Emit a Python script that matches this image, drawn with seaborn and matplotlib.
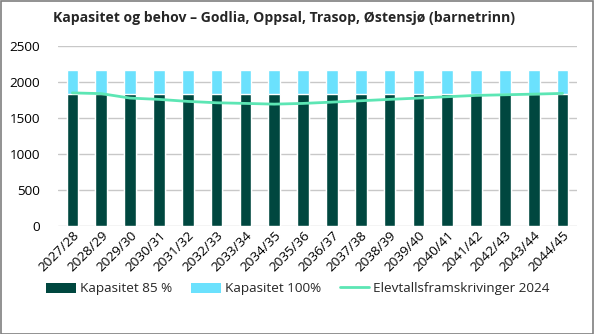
import matplotlib
matplotlib.use("Agg")
import matplotlib.pyplot as plt
import seaborn as sns
import numpy as np
import pandas as pd
from matplotlib.patches import Patch, Rectangle
from matplotlib.lines import Line2D

years = ["2027/28", "2028/29", "2029/30", "2030/31", "2031/32", "2032/33",
         "2033/34", "2034/35", "2035/36", "2036/37", "2037/38", "2038/39",
         "2039/40", "2040/41", "2041/42", "2042/43", "2043/44", "2044/45"]
kap85 = [1840] * 18
kap100 = [2165] * 18
elevtall = [1850, 1840, 1778, 1760, 1732, 1713, 1704, 1694, 1704,
            1722, 1741, 1760, 1778, 1797, 1815, 1824, 1833, 1843]

c_dark = "#00473F"
c_light = "#6BE1FD"
c_line = "#5CE6B4"

sns.set_theme(style="white")
plt.rcParams['font.family'] = ['Open Sans', 'DejaVu Sans']

df = pd.DataFrame({"year": years, "k85": kap85, "k100": kap100, "elev": elevtall})

fig = plt.figure(figsize=(5.94, 3.34), dpi=100)
ax = fig.add_axes([0.0976, 0.323, 0.8738, 0.539])

sns.barplot(data=df, x="year", y="k100", color=c_light, width=0.4,
            saturation=1, ax=ax, zorder=2)
sns.barplot(data=df, x="year", y="k85", color=c_dark, width=0.4,
            saturation=1, ax=ax, zorder=3)
sns.lineplot(x=np.arange(len(years)), y=df["elev"], color=c_line,
             linewidth=2, ax=ax, zorder=4)

ax.set_ylim(0, 2500)
ax.set_xlim(-0.5, len(years) - 0.5)
ax.set_yticks([0, 500, 1000, 1500, 2000, 2500])
ax.yaxis.grid(True, color="#C8C8C8", linewidth=1)
ax.set_axisbelow(True)
for s in ax.spines.values():
    s.set_visible(False)
ax.set_xlabel("")
ax.set_ylabel("")
ax.tick_params(axis="y", length=0, labelsize=9.7, pad=13, colors="#000000")
ax.tick_params(axis="x", length=0, labelsize=9.7, pad=2, colors="#000000")
ax.set_xticks(np.arange(len(years)))
ax.set_xticklabels(years, rotation=45, ha="right", rotation_mode="anchor")

fig.text(0.090, 0.945, "Kapasitet og behov \u2013 Godlia, Oppsal, Trasop, \u00d8stensj\u00f8 (barnetrinn)",
         fontsize=10.1, fontweight="bold", ha="left", va="center")

handles = [Patch(facecolor=c_dark, edgecolor="none"),
           Patch(facecolor=c_light, edgecolor="none"),
           Line2D([0], [0], color=c_line, linewidth=2)]
labels = ["Kapasitet 85 %", "Kapasitet 100%", "Elevtallsframskrivinger 2024"]
fig.legend(handles, labels, loc="center", bbox_to_anchor=(0.502, 0.135), ncol=3,
           frameon=False, fontsize=9.7, handlelength=2.2, handleheight=0.8,
           handletextpad=0.3, columnspacing=1.4)

fig.patches.append(Rectangle((0.001, 0.001), 0.997, 0.997, transform=fig.transFigure,
                             fill=False, edgecolor="#7F7F7F", linewidth=1.2))

fig.savefig("out.png", dpi=100)
